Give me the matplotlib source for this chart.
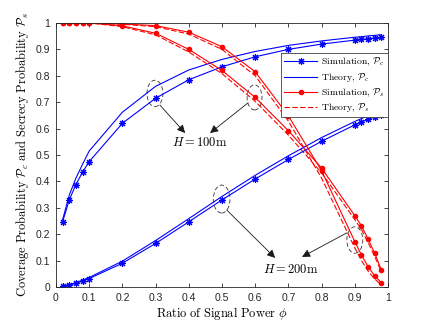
import numpy as np
import matplotlib
matplotlib.use('Agg')
import matplotlib.pyplot as plt
from matplotlib.patches import Ellipse

plt.rcParams['mathtext.fontset'] = 'cm'
plt.rcParams['font.family'] = ['Liberation Sans', 'DejaVu Sans']

# -----------------------
# DATA
# -----------------------
phi = [0.02, 0.04, 0.06, 0.08, 0.1, 0.2, 0.3, 0.4, 0.5, 0.6, 0.7, 0.8, 0.9, 0.92, 0.94, 0.96, 0.98]

pc_sim_100 = [0.247, 0.330, 0.388, 0.435, 0.475, 0.620, 0.715, 0.785, 0.834, 0.872, 0.900, 0.920, 0.935, 0.938, 0.940, 0.943, 0.945]
pc_th_100 = [0.255, 0.348, 0.412, 0.465, 0.515, 0.662, 0.760, 0.822, 0.862, 0.892, 0.915, 0.932, 0.946, 0.948, 0.951, 0.953, 0.956]
pc_sim_200 = [0.002, 0.007, 0.014, 0.022, 0.032, 0.090, 0.165, 0.247, 0.330, 0.409, 0.483, 0.552, 0.614, 0.625, 0.635, 0.644, 0.652]
pc_th_200 = [0.003, 0.009, 0.017, 0.026, 0.036, 0.098, 0.176, 0.259, 0.343, 0.423, 0.497, 0.566, 0.627, 0.638, 0.648, 0.657, 0.665]

ps_sim_100 = [1.0, 1.0, 1.0, 1.0, 1.0, 0.989, 0.961, 0.900, 0.820, 0.718, 0.592, 0.450, 0.270, 0.232, 0.181, 0.128, 0.064]
ps_th_100 = [1.0, 1.0, 1.0, 1.0, 1.0, 0.986, 0.955, 0.890, 0.808, 0.703, 0.575, 0.432, 0.255, 0.218, 0.168, 0.116, 0.056]
ps_sim_200 = [1.0, 1.0, 1.0, 1.0, 1.0, 0.996, 0.990, 0.965, 0.910, 0.815, 0.648, 0.440, 0.172, 0.121, 0.077, 0.042, 0.016]
ps_th_200 = [1.0, 1.0, 1.0, 1.0, 1.0, 0.995, 0.986, 0.958, 0.900, 0.800, 0.628, 0.412, 0.148, 0.100, 0.060, 0.030, 0.008]

ticks = [0, 0.1, 0.2, 0.3, 0.4, 0.5, 0.6, 0.7, 0.8, 0.9, 1]
tick_labels = ['0', '0.1', '0.2', '0.3', '0.4', '0.5', '0.6', '0.7', '0.8', '0.9', '1']

# -----------------------
# PLOT
# -----------------------
fig = plt.figure(figsize=(4.29, 3.22), dpi=100)
ax = fig.add_axes([0.1305, 0.1087, 0.774, 0.82])

lw = 0.8
star = (8, 2, 0)  # asterisk, like matlab '*'
dash = (5, 2)
ax.plot(phi, pc_sim_100, 'b-', marker=star, lw=lw, ms=5, mew=0.8, label=r'$\mathrm{Simulation},\,\mathcal{P}_c$')
ax.plot(phi, pc_th_100, 'b-', lw=lw, label=r'$\mathrm{Theory},\,\mathcal{P}_c$')
ax.plot(phi, ps_sim_100, 'r-', marker='.', lw=lw, ms=6, label=r'$\mathrm{Simulation},\,\mathcal{P}_s$')
ax.plot(phi, ps_th_100, 'r--', lw=lw, dashes=dash, label=r'$\mathrm{Theory},\,\mathcal{P}_s$')

ax.plot(phi, pc_sim_200, 'b-', marker=star, lw=lw, ms=5, mew=0.8)
ax.plot(phi, pc_th_200, 'b-', lw=lw)
ax.plot(phi, ps_sim_200, 'r-', marker='.', lw=lw, ms=6)
ax.plot(phi, ps_th_200, 'r--', lw=lw, dashes=dash)

ax.set_xlim(0, 1)
ax.set_ylim(0, 1)
ax.set_xticks(ticks)
ax.set_xticklabels(tick_labels)
ax.set_yticks(ticks)
ax.set_yticklabels(tick_labels)
ax.tick_params(direction='in', length=3, width=0.6, top=True, right=True,
               labelsize=7.5, colors='0.15', pad=4)
for s in ax.spines.values():
    s.set_color('0.15')
    s.set_linewidth(0.6)

ax.set_xlabel(r'$\mathrm{Ratio\ of\ Signal\ Power}\ \phi$', fontsize=9)
ax.set_ylabel(r'$\mathrm{Coverage\ Probability}\ \mathcal{P}_c\ \mathrm{and\ Secrecy\ Probability}\ \mathcal{P}_s$',
              fontsize=9)
ax.xaxis.set_label_coords(0.5, -0.068)
ax.yaxis.set_label_coords(-0.075, 0.5)

leg = ax.legend(loc='upper right', bbox_to_anchor=(1.0, 0.886), fontsize=7,
                fancybox=False, framealpha=1, edgecolor='0.25',
                handlelength=3.4, borderpad=0.3, labelspacing=0.25,
                handletextpad=0.4, borderaxespad=0)
leg.get_frame().set_linewidth(0.6)

# -----------------------
# ANNOTATIONS
# -----------------------
ell_kw = dict(fill=False, ls=(0, (5, 3)), lw=0.6, ec='0.2')
for cx, cy, w, h in [(0.298, 0.733, 0.048, 0.10), (0.598, 0.718, 0.045, 0.095),
                     (0.499, 0.333, 0.05, 0.106), (0.90, 0.178, 0.048, 0.10)]:
    ax.add_patch(Ellipse((cx, cy), w, h, **ell_kw))

arrow_kw = dict(arrowstyle='-|>', lw=0.6, color='0.1', mutation_scale=12, shrinkA=0, shrinkB=0)
ax.annotate('', xy=(0.389, 0.583), xytext=(0.313, 0.689), arrowprops=arrow_kw)
ax.annotate('', xy=(0.464, 0.583), xytext=(0.578, 0.697), arrowprops=arrow_kw)
ax.annotate('', xy=(0.66, 0.11), xytext=(0.514, 0.292), arrowprops=arrow_kw)
ax.annotate('', xy=(0.741, 0.114), xytext=(0.876, 0.205), arrowprops=arrow_kw)

ax.text(0.434, 0.549, r'$H=100\mathrm{m}$', fontsize=9, ha='center', va='center')
ax.text(0.708, 0.068, r'$H=200\mathrm{m}$', fontsize=9, ha='center', va='center')

fig.savefig('out.png', dpi=100)
